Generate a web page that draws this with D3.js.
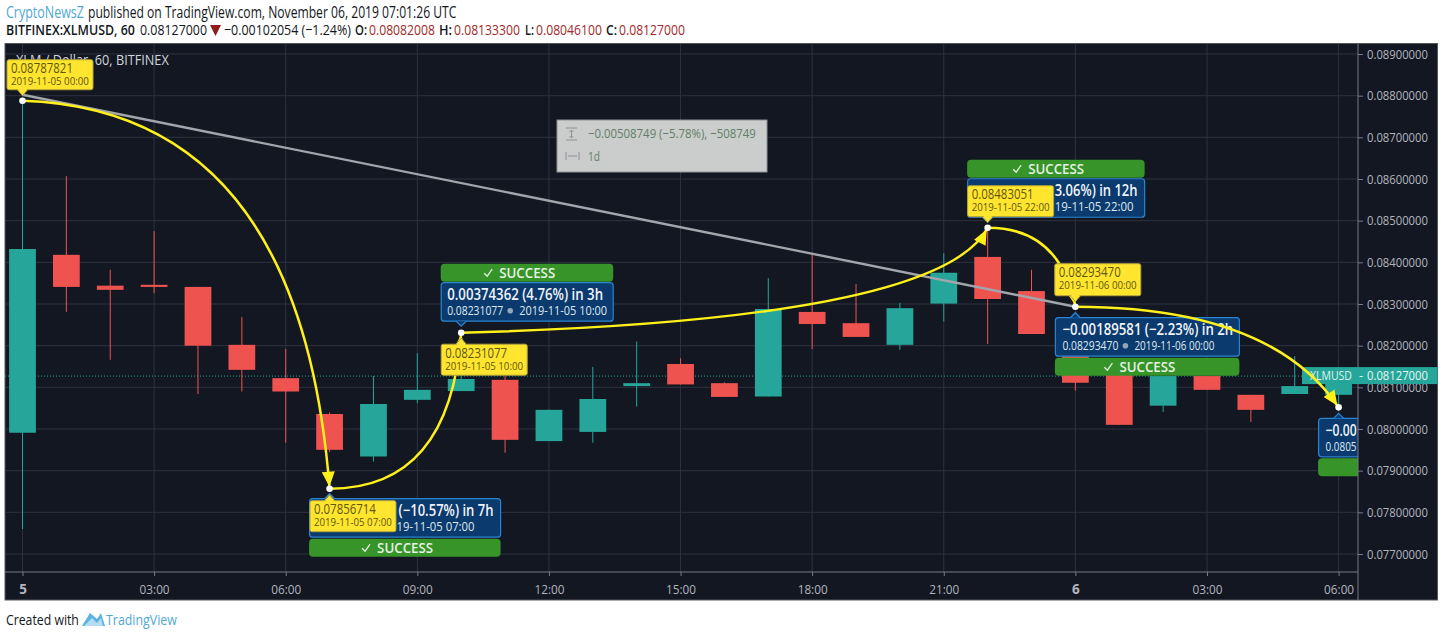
<!DOCTYPE html>
<html><head><meta charset="utf-8">
<style>html,body{margin:0;padding:0;background:#fff;overflow:hidden}svg{display:block}text{font-family:"Open Sans","Noto Sans",sans-serif}</style>
<script src="https://cdnjs.cloudflare.com/ajax/libs/d3/7.8.5/d3.min.js"></script>
</head><body><svg id="c" width="1444" height="637"></svg>
<script>
// ---- data ----
const hours  = [0,1,2,3,4,5,6,7,8,9,10,11,12,13,14,15,16,17,18,19,20,21,22,23,24,25,26,27,28,29,30];
const opens  = [.07991,.08418,.08344,.08346,.08341,.08202,.08122,.08036,.07934,.08070,.08091,.08118,.07971,.07993,.08103,.08156,.08110,.08078,.08281,.08254,.08202,.08301,.08413,.08331,.08175,.08130,.08056,.08127,.08082,.08084,.08082];
const closes = [.08432,.08341,.08334,.08341,.08200,.08142,.08090,.07950,.08060,.08094,.08120,.07974,.08046,.08072,.08110,.08107,.08077,.08288,.08252,.08221,.08290,.08375,.08312,.08228,.08111,.08010,.08127,.08094,.08046,.08103,.08127];
const highs  = [.08788,.08607,.08382,.08475,.08341,.08269,.08192,.08040,.08127,.08182,.08142,.08127,.08046,.08149,.08210,.08170,.08112,.08362,.08418,.08348,.08303,.08422,.08482,.08382,.08175,.08130,.08127,.08127,.08082,.08175,.08133];
const lows   = [.07760,.08281,.08166,.08326,.08084,.08090,.07967,.07945,.07922,.08062,.08091,.07943,.07971,.07967,.08054,.08107,.08077,.08078,.08192,.08221,.08190,.08258,.08204,.08228,.08092,.08010,.08041,.08094,.08017,.08084,.08046];
const priceTicks = [.077,.078,.079,.08,.081,.082,.083,.084,.085,.086,.087,.088,.089];
const timeTicks  = [0,3,6,9,12,15,18,21,24,27,30];
const timeLabels = ["5","03:00","06:00","09:00","12:00","15:00","18:00","21:00","6","03:00","06:00"];
const lastPrice = 0.08127;
// pivots of the drawn path
const pivotHours  = [0,7,10,22,24,30];
const pivotPrices = [.08787821,.07856714,.08231077,.08483051,.0829347,.08052];
const pivotText   = ["0.08787821","0.07856714","0.08231077","0.08483051","0.08293470"];
const pivotDates  = ["2019-11-05 00:00","2019-11-05 07:00","2019-11-05 10:00","2019-11-05 22:00","2019-11-06 00:00"];
const bendHours   = [6.33,9.74,20.91,23.65,28.44];
const bendPrices  = [.08766,.07856714,.082616,.08483051,.0829347];
// result labels: only the part of each text that is not covered in the picture
const moveText    = ["(−10.57%) in 7h","0.00374362 (4.76%) in 3h","3.06%) in 12h","−0.00189581 (−2.23%) in 2h","−0.00"];
const moveStart   = ["","0.08231077","","0.08293470","0.0805"];
const moveDates   = ["19-11-05  07:00","2019-11-05  10:00","19-11-05  22:00","2019-11-06  00:00",""];
const trendHours  = [0,24];
const trendPrices = [.08802219,.0829347];
const measureLines = ["−0.00508749 (−5.78%), −508749","1d"];

// ---- layout ----
const BG="#131722",GRID="#2e323f",UP="#26a69a",DOWN="#ef5350",AXIS="#b2b5be",YEL="#ffe52e",BLUEF="#0b3a6e",BLUES="#2a84d2",GREEN="#379428",LINK="#4fa9d3";
const P={l:5,r:1437.5,t:43.5,b:600,ax:1358,xb:572};
const x=d3.scaleLinear().domain([0,30]).range([22.5,1338.6]);
const y=d3.scaleLinear().domain([.077,.089]).range([554,54]);
const svg=d3.select("#c");
// narrow a text to the width it has in the picture by scaling it horizontally
function fit(t,px,py,w){const n=t.node().getComputedTextLength();
  t.attr("x",0).attr("y",0).attr("transform",`translate(${px},${py}) scale(${w/n},1)`);}
function T(g,px,py,s,o={}){const t=g.append("text").attr("x",px).attr("y",py).attr("dy","0.35em").text(s)
  .attr("font-size",o.size||12).attr("fill",o.fill||"#131722").attr("font-weight",o.weight||400).attr("text-anchor",o.anchor||"start");
  if(o.w)fit(t,px,py,o.w);return t;}

// header
const h=svg.append("g");
T(h,6,13,"CryptoNewsZ",{size:15.5,fill:LINK,w:78});
T(h,88,13,"published on TradingView.com, November 06, 2019 07:01:26 UTC",{size:15.5,w:369});
T(h,6,30,"BITFINEX:XLMUSD, 60",{size:15,weight:600,w:129});
T(h,140,30,"0.08127000",{size:15,w:67});
h.append("path").attr("d",d3.line()([[210,25],[221,25],[215.5,36]])+"Z").attr("fill","#8e1c1c");
T(h,224,30,"−0.00102054 (−1.24%)",{size:15,w:127});
[["O:",355,12,"0.08082008",369],["H:",439,13,"0.08133300",454],["L:",525,9,"0.08046100",536],["C:",606,11,"0.08127000",619]].forEach(a=>{
  T(h,a[1],30,a[0],{size:15,weight:600,w:a[2]});
  T(h,a[4],30,a[3],{size:15,fill:"#a32a2a",w:66});
});

// panel
svg.append("rect").attr("x",P.l).attr("y",P.t).attr("width",P.r-P.l).attr("height",P.b-P.t).attr("fill",BG).attr("stroke","#55585f");
svg.append("defs").append("clipPath").attr("id","pl").append("rect").attr("x",P.l).attr("y",P.t).attr("width",P.ax-P.l).attr("height",P.xb-P.t);
const plot=svg.append("g").attr("clip-path","url(#pl)");
plot.append("g").selectAll("line").data(priceTicks).join("line").attr("x1",P.l).attr("x2",P.ax).attr("y1",d=>y(d)).attr("y2",d=>y(d)).attr("stroke",GRID);
plot.append("g").selectAll("line").data(timeTicks).join("line").attr("x1",d=>x(d)).attr("x2",d=>x(d)).attr("y1",P.t).attr("y2",P.xb).attr("stroke",GRID);

// title
T(plot,16,60.5,"XLM / Dollar, 60, BITFINEX",{size:14,fill:"#d1d4dc",w:153});

// price line
plot.append("line").attr("x1",P.l).attr("x2",P.ax).attr("y1",y(lastPrice)).attr("y2",y(lastPrice)).attr("stroke",UP).attr("stroke-dasharray","1 2");

// candles
const cw=(x(1)-x(0))*0.61;
const cs=plot.append("g").selectAll("g").data(hours).join("g").attr("fill",(d,i)=>closes[i]>=opens[i]?UP:DOWN).attr("stroke",(d,i)=>closes[i]>=opens[i]?UP:DOWN);
cs.append("line").attr("x1",d=>x(d)).attr("x2",d=>x(d)).attr("y1",(d,i)=>y(highs[i])).attr("y2",(d,i)=>y(lows[i])).attr("stroke-width",1);
cs.append("rect").attr("x",d=>x(d)-cw/2).attr("width",cw).attr("stroke","none")
  .attr("y",(d,i)=>y(Math.max(opens[i],closes[i]))).attr("height",(d,i)=>Math.max(1.5,Math.abs(y(opens[i])-y(closes[i]))));

// pivots in pixels
const pts=pivotHours.map((d,i)=>[x(d),y(pivotPrices[i])]);

// blue & green result labels (offsets from each pivot)
const blue=[
 {p:1,w:191,d:10,up:false,tx:89,tw:95,dx2:87,dw:78},
 {p:2,w:172,d:-50,up:true,tx:6,tw:156,sx:6,sw:56,cx:69,dx2:78,dw:88},
 {p:3,w:177,d:-49,up:true,tx:87,tw:83,dx2:87,dw:79},
 {p:4,w:184,d:11,up:false,tx:7,tw:171,sx:7,sw:56,cx:70,dx2:79,dw:80},
 {p:5,w:180,d:11,up:false,tx:7,tw:31,sx:7,sw:31}];
const labels=plot.append("g");
blue.forEach((b,k)=>{
  const i=b.p,[ax,ay]=pts[i], L=ax-20, Y=ay+b.d, g=labels.append("g");
  const gy=b.up?Y-19:Y+40;
  g.append("rect").attr("x",L-.5).attr("y",gy).attr("width",b.w+.5).attr("height",18).attr("rx",4).attr("fill",GREEN);
  const cx=L+b.w/2;
  if(k<4){
    g.append("path").attr("d",`M${cx-43} ${gy+9.5}l3 3l5 -7`).attr("fill","none").attr("stroke","#e6f2e4").attr("stroke-width",1.3);
    T(g,cx,gy+9,"SUCCESS",{size:15,weight:600,fill:"#e6f2e4",anchor:"middle",w:56});
  }
  g.append("rect").attr("x",L).attr("y",Y).attr("width",b.w).attr("height",38.5).attr("rx",3).attr("fill",BLUEF).attr("stroke",BLUES).attr("stroke-width",1.2);
  const tailY=b.up?Y+38.5:Y, s=b.up?1:-1;
  g.append("path").attr("d",`M${ax-5} ${tailY}L${ax} ${tailY+s*5}L${ax+5} ${tailY}`).attr("fill",BLUEF).attr("stroke",BLUES).attr("stroke-width",1.2);
  T(g,L+b.tx,Y+12,moveText[k],{size:16,weight:600,fill:"#f0f4f8",w:b.tw});
  if(moveStart[k]) T(g,L+b.sx,Y+28,moveStart[k],{size:13,fill:"#dfe8f0",w:b.sw});
  if(b.cx) g.append("circle").attr("cx",L+b.cx).attr("cy",Y+28).attr("r",2.8).attr("fill","#8fa6bd");
  if(moveDates[k]) T(g,L+(b.dx2),Y+28,moveDates[k],{size:13,fill:"#dfe8f0",w:b.dw});
});

// price tag
const tag=svg.append("g");
tag.append("rect").attr("x",1302).attr("y",y(lastPrice)-9).attr("width",P.ax-1302).attr("height",17).attr("fill",UP);

// y axis
const yAxis=svg.append("g").attr("transform",`translate(${P.ax},0)`).call(d3.axisRight(y).tickValues(priceTicks).tickFormat(d=>d.toFixed(8)).tickSize(5).tickPadding(4));
yAxis.select(".domain").remove();
yAxis.selectAll("line").attr("stroke","#787b86");
yAxis.selectAll("text").attr("fill",AXIS).attr("font-size",13.5).each(function(){fit(d3.select(this),9,0,61);});
svg.append("line").attr("x1",P.ax).attr("x2",P.ax).attr("y1",P.t).attr("y2",P.b).attr("stroke","#787b86");
tag.raise();
tag.append("rect").attr("x",P.ax).attr("y",y(lastPrice)-9).attr("width",P.r-P.ax).attr("height",17).attr("fill",UP);
T(tag,1310,y(lastPrice)-.5,"XLMUSD",{size:13.5,fill:"#dff3f1",w:42});
T(tag,1359,y(lastPrice)-.5,"-",{size:13,fill:"#dff3f1"});
T(tag,1367,y(lastPrice)-.5,"0.08127000",{size:13.5,fill:"#e8f6f5",w:61});

// x axis
const xAxis=svg.append("g").attr("transform",`translate(0,${P.xb})`).call(d3.axisBottom(x).tickValues(timeTicks).tickFormat((d,i)=>timeLabels[i]).tickSize(4).tickPadding(8));
xAxis.select(".domain").attr("stroke","#787b86").attr("d",`M${P.l},0H${P.ax}`);
xAxis.selectAll("line").attr("stroke","#787b86");
xAxis.selectAll("text").attr("fill",AXIS).attr("font-size",13.5).attr("font-weight",(d,i)=>timeLabels[i].length===1?700:400)
  .each(function(d,i){ if(timeLabels[i].length>1){const t=d3.select(this),n=t.node().getComputedTextLength(); t.attr("transform",`scale(${30/n},1)`);} });

// measure box
const m=svg.append("g");
m.append("rect").attr("x",557).attr("y",120).attr("width",210).attr("height",52).attr("fill","#cbcdcd").attr("stroke","#8f9296");
m.append("path").attr("d","M566 128h11M566 140h11M571.5 130v8M569.5 132l2 -2l2 2M569.5 136l2 2l2 -2M566 152v8M579 152v8M568 156h9").attr("stroke","#8d9094").attr("fill","none");
T(m,588,133.5,measureLines[0],{size:13.5,fill:"#5f7f66",w:168});
T(m,588,156,measureLines[1],{size:13.5,fill:"#5f7f66",w:12});

// trend line
svg.append("line").attr("x1",x(trendHours[0])).attr("y1",y(trendPrices[0])).attr("x2",x(trendHours[1])).attr("y2",y(trendPrices[1])).attr("stroke","#a2a5ac").attr("stroke-width",2.4);

// yellow curves
const curves=svg.append("g");
bendHours.forEach((bh,i)=>{
  const p=d3.path(), a=pts[i], b=pts[i+1], c=[x(bh),y(bendPrices[i])];
  p.moveTo(a[0],a[1]); p.quadraticCurveTo(c[0],c[1],b[0],b[1]);
  curves.append("path").attr("d",p.toString()).attr("fill","none").attr("stroke","#fff01a").attr("stroke-width",2.5);
  const ang=Math.atan2(b[1]-c[1],b[0]-c[0]), tip=[b[0]-2*Math.cos(ang),b[1]-2*Math.sin(ang)], len=15, hw=6.5;
  const bx=tip[0]-len*Math.cos(ang), by=tip[1]-len*Math.sin(ang), nx=-Math.sin(ang)*hw, ny=Math.cos(ang)*hw;
  curves.append("path").attr("d",d3.line()([tip,[bx+nx,by+ny],[bx-nx,by-ny]])+"Z").attr("fill","#fff01a");
});

// yellow value labels
const yel=[{dx:-15.5,dy:-41,h:30},{dx:-19.6,dy:12,h:31},{dx:-20,dy:11.5,h:31},{dx:-20,dy:-42,h:31},{dx:-20.6,dy:-43,h:32}];
const yl=svg.append("g");
yel.forEach((o,i)=>{
  const [ax,ay]=pts[i], L=ax+o.dx, Y=ay+o.dy, g=yl.append("g");
  const above=o.dy<0, ty=above?Y+o.h:Y, s=above?1:-1;
  g.append("path").attr("d",`M${ax-5} ${ty}L${ax} ${ty+s*6}L${ax+5} ${ty}Z`).attr("fill",YEL).attr("stroke","#a8983a");
  g.append("rect").attr("x",L).attr("y",Y).attr("width",86).attr("height",o.h).attr("rx",2).attr("fill",YEL).attr("stroke","#b5a53a");
  g.append("rect").attr("x",ax-4).attr("y",ty-1.5).attr("width",8).attr("height",3).attr("fill",YEL);
  T(g,L+4,Y+8.5,pivotText[i],{size:14,fill:"#5f5710",w:62});
  T(g,L+4,Y+21.5,pivotDates[i],{size:11.5,fill:"#5f5710",w:78});
});

// dots
svg.append("g").selectAll("circle").data(pts).join("circle").attr("cx",d=>d[0]).attr("cy",d=>d[1]).attr("r",3.3).attr("fill","#fff");

// footer
const f=svg.append("g");
T(f,6,619.5,"Created with",{size:15,w:73});
f.append("path").attr("d","M82 626L90 613L97 619L101 613L105 626Z").attr("fill","#5ab4df");
f.append("path").attr("d","M84 626L92 618L97 623L101 618L103 626Z").attr("fill","#fff").attr("opacity",.55);
T(f,106,619.5,"TradingView",{size:15,fill:LINK,w:71});
</script></body></html>
